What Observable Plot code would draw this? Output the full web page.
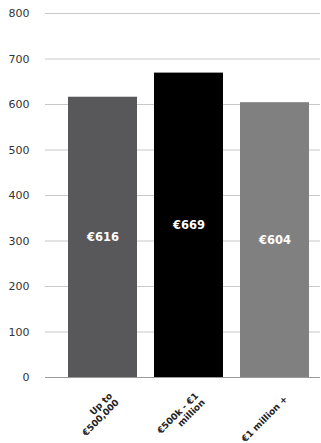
<!DOCTYPE html>
<html>
<head>
<meta charset="utf-8">
<script src="https://cdn.jsdelivr.net/npm/d3@7"></script>
<script src="https://cdn.jsdelivr.net/npm/@observablehq/plot@0.6"></script>
<style>
  html, body { margin: 0; padding: 0; background: #fff; }
  #chart svg { display: block; }
</style>
</head>
<body>
<div id="chart"></div>
<script>
const categories = ["Up to\n€500,000", "€500k - €1\nmillion", "€1 million +"];
const values = [616, 669, 604];
const valueLabels = ["€616", "€669", "€604"];
const barColors = ["#58585b", "#000000", "#808080"];
const yTicks = [0, 100, 200, 300, 400, 500, 600, 700, 800];

const data = categories.map((c, i) => ({category: c, value: values[i], label: valueLabels[i]}));

const chart = Plot.plot({
  width: 321,
  height: 443,
  marginTop: 13,
  marginBottom: 66,
  marginLeft: 45,
  marginRight: 1,
  style: {fontFamily: "DejaVu Sans", background: "#fff"},
  x: {domain: categories, paddingInner: 0.2, paddingOuter: 0.19, align: 0.66, axis: null},
  y: {domain: [0, 800], axis: null},
  color: {domain: categories, range: barColors},
  marks: [
    Plot.ruleY(yTicks.filter(d => d !== 0), {stroke: "#c8c8c8", strokeWidth: 1.2}),
    Plot.barY(data, {x: "category", y: "value", fill: "category"}),
    Plot.ruleY([0], {stroke: "#9a9a9a", strokeWidth: 1.2}),
    Plot.axisY(yTicks, {
      tickSize: 0, tickPadding: 16, fontSize: 11, fill: "#333", label: null
    }),
    Plot.text(data, {
      x: "category", y: d => d.value / 2, text: "label",
      fill: "#fff", fontSize: 11.5, fontWeight: "bold"
    }),
    Plot.text(data, {
      x: "category", frameAnchor: "bottom", text: "category",
      rotate: -45, textAnchor: "end", lineAnchor: "middle",
      dx: 11, dy: 20, fontSize: 9, fontWeight: "bold", fill: "#222", lineHeight: 1.05
    })
  ]
});
document.getElementById("chart").appendChild(chart);
</script>
</body>
</html>
